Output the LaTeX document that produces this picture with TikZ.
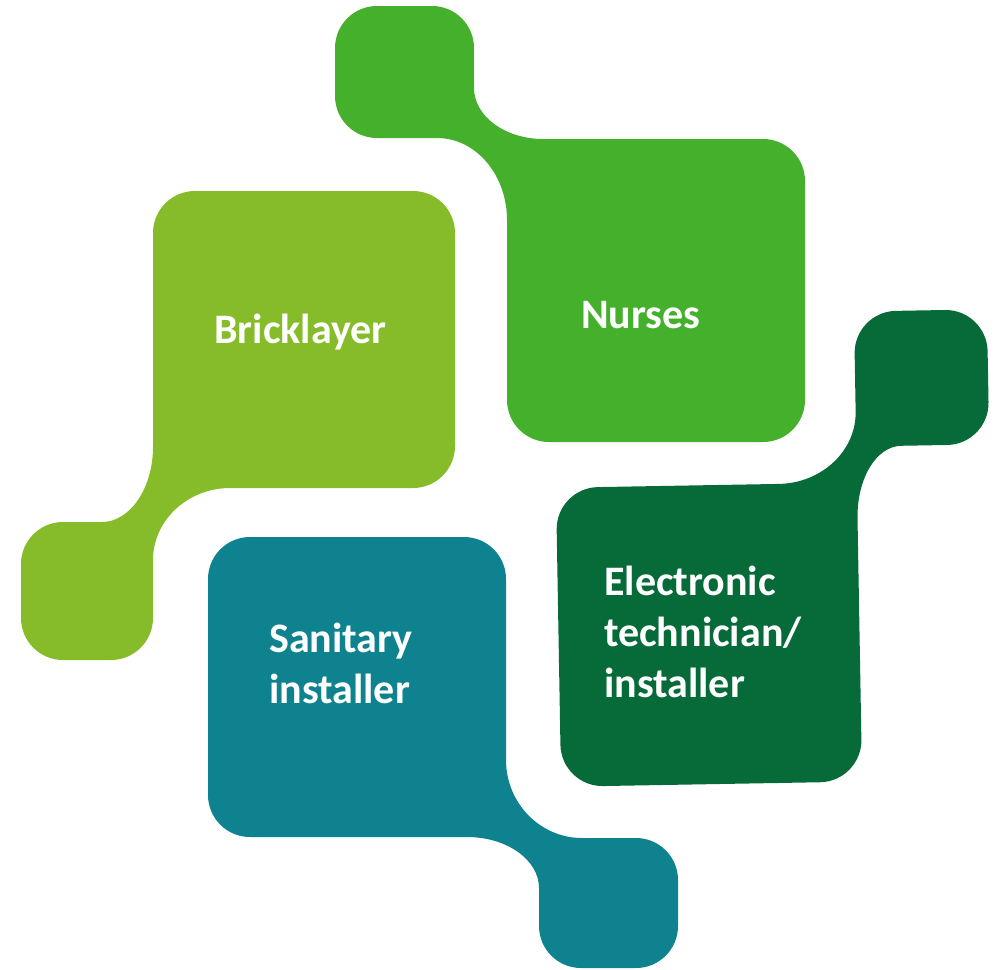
\documentclass[tikz,border=0pt]{standalone}
\usepackage{fontspec}
\setmainfont{Carlito}
\definecolor{nursegreen}{HTML}{45B02C}
\definecolor{brickgreen}{HTML}{86BC29}
\definecolor{elecgreen}{HTML}{066B38}
\definecolor{santeal}{HTML}{0E838F}
\begin{document}
\begin{tikzpicture}[x=1pt, y=-1pt,
    jobtext/.style={text=white, font=\bfseries\fontsize{42}{51}\selectfont, inner sep=0pt, align=left, anchor=base west}]
            \useasboundingbox (0,0) rectangle (995,969);

            % Draw the Nurses piece
            \fill[nursegreen] (335,48) arc[start angle=180, end angle=270, radius=42] -- (432,6)
                arc[start angle=270, end angle=360, radius=42] -- (474,88)
                .. controls (474,116) and (505,139) .. (543,139) -- (763,139)
                arc[start angle=270, end angle=360, radius=42] -- (805,400)
                arc[start angle=0, end angle=90, radius=42] -- (549,442)
                arc[start angle=90, end angle=180, radius=42] -- (507,220)
                .. controls (507,175) and (476,138) .. (437,138) -- (377,138)
                arc[start angle=90, end angle=180, radius=42] -- cycle;

            % Draw the Bricklayer piece
            \fill[brickgreen] (153,233) arc[start angle=180, end angle=270, radius=42] -- (413,191)
                arc[start angle=270, end angle=360, radius=42] -- (455,446)
                arc[start angle=0, end angle=90, radius=42] -- (230,488)
                .. controls (188,488) and (153,520) .. (153,560) -- (153,618)
                arc[start angle=0, end angle=90, radius=42] -- (63,660)
                arc[start angle=90, end angle=180, radius=42] -- (21,564)
                arc[start angle=180, end angle=270, radius=42] -- (102,522)
                .. controls (130,522) and (153,488) .. (153,447) -- cycle;

            % Draw the Sanitary piece
            \fill[santeal] (208,579) arc[start angle=180, end angle=270, radius=42] -- (464,537)
                arc[start angle=270, end angle=360, radius=42] -- (506,760)
                .. controls (506,803) and (540,838) .. (582,838) -- (636,838)
                arc[start angle=270, end angle=360, radius=42] -- (678,926)
                arc[start angle=0, end angle=90, radius=42] -- (581,968)
                arc[start angle=90, end angle=180, radius=42] -- (539,888)
                .. controls (539,860) and (507,837) .. (467,837) -- (250,837)
                arc[start angle=90, end angle=180, radius=42] -- cycle;

            % Draw the Electronic piece, a little turned
            \fill[elecgreen, rotate around={1:(775,547)}] (557,526) arc[start angle=180, end angle=270, radius=42] -- (780,484)
                .. controls (823,484) and (858,452) .. (858,413) -- (858,355)
                arc[start angle=180, end angle=270, radius=42] -- (949,313)
                arc[start angle=270, end angle=360, radius=42] -- (991,406)
                arc[start angle=0, end angle=90, radius=42] -- (903,448)
                .. controls (878,448) and (858,480) .. (858,520) -- (858,741)
                arc[start angle=0, end angle=90, radius=42] -- (599,783)
                arc[start angle=90, end angle=180, radius=42] -- cycle;

            % Write the jobs
            \node[jobtext] (brick) at (214,343) {Bricklayer};
            \node[jobtext] (nurse) at (581,328) {Nurses};
            \node[jobtext] (sanit) at (269,703) {Sanitary\\installer};
            \node[jobtext] (elec) at (604,697) {Electronic\\technician/\\installer};

        \end{tikzpicture}
\end{document}
